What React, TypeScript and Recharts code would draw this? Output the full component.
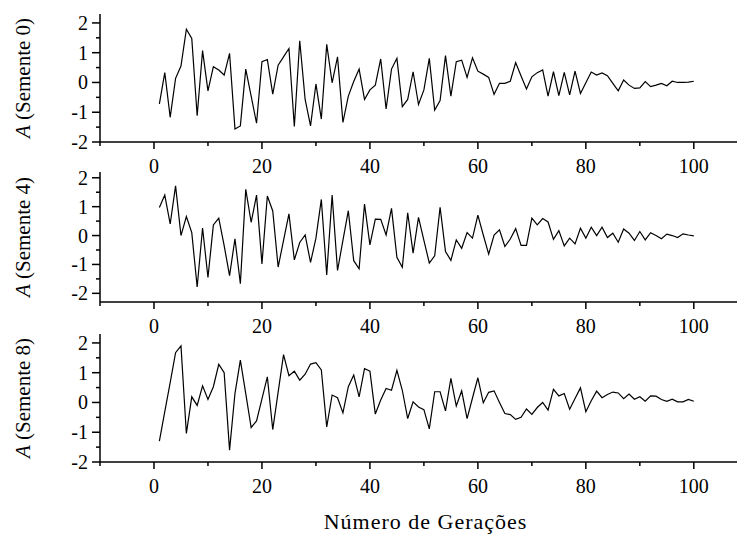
import { LineChart, Line, XAxis, YAxis } from 'recharts'

// valores (A por geração, 3 sementes)
const generations = Array.from({ length: 100 }, (_, i) => i + 1)

const semente0 = [
  -0.72, 0.33, -1.17, 0.14, 0.55, 1.79, 1.48, -1.12, 1.07, -0.28,
  0.53, 0.42, 0.25, 0.98, -1.56, -1.46, 0.45, -0.46, -1.37, 0.7,
  0.77, -0.39, 0.58, 0.86, 1.14, -1.48, 1.4, -0.57, -1.46, -0.05,
  -1.23, 1.28, -0.01, 0.86, -1.34, -0.46, 0.03, 0.45, -0.57, -0.25,
  -0.09, 0.79, -0.89, 0.45, 0.81, -0.81, -0.57, 0.36, -0.74, -0.25,
  0.81, -0.93, -0.61, 0.9, -0.46, 0.7, 0.75, 0.17, 0.83, 0.38,
  0.28, 0.17, -0.4, -0.03, -0.03, 0.04, 0.67, 0.22, -0.22, 0.19,
  0.33, 0.42, -0.46, 0.36, -0.44, 0.34, -0.42, 0.38, -0.37, -0.01,
  0.35, 0.25, 0.32, 0.23, -0.03, -0.28, 0.08, -0.09, -0.2, -0.18,
  0.03, -0.14, -0.09, -0.03, -0.11, 0.04, 0.0, 0.0, 0.01, 0.04,
]

const semente4 = [
  0.97, 1.4, 0.4, 1.72, 0.0, 0.66, 0.1, -1.78, 0.26, -1.45,
  0.37, 0.6, -0.35, -1.39, -0.11, -1.67, 1.6, 0.46, 1.4, -0.98,
  1.37, 0.85, -1.09, -0.17, 0.75, -0.84, -0.24, 0.02, -0.93, -0.09,
  1.25, -1.36, 1.4, -1.21, -0.17, 0.86, -0.87, -1.15, 1.09, -0.32,
  0.57, 0.56, 0.02, 0.94, -0.75, -1.1, 0.79, -0.61, 0.63, -0.17,
  -0.95, -0.7, 0.98, -0.55, -0.86, -0.15, -0.44, 0.1, -0.09, 0.71,
  0.02, -0.64, 0.02, 0.2, -0.38, -0.12, 0.24, -0.34, -0.34, 0.6,
  0.37, 0.59, 0.47, -0.13, 0.17, -0.36, -0.09, -0.29, 0.25, -0.09,
  0.29, 0.0, 0.29, -0.07, 0.08, -0.23, 0.23, 0.08, -0.17, 0.14,
  -0.15, 0.1, 0.0, -0.11, 0.05, 0.0, -0.07, 0.06, 0.02, -0.01,
]

const semente8 = [
  -1.3, -0.31, 0.67, 1.67, 1.9, -1.04, 0.19, -0.1, 0.56, 0.1,
  0.53, 1.28, 1.0, -1.6, 0.3, 1.42, 0.3, -0.84, -0.62, 0.12,
  0.86, -0.91, 0.35, 1.61, 0.9, 1.05, 0.75, 0.95, 1.29, 1.34,
  1.09, -0.82, 0.25, 0.16, -0.35, 0.53, 0.92, 0.19, 1.14, 1.05,
  -0.39, 0.08, 0.47, 0.41, 1.08, 0.41, -0.54, 0.02, -0.15, -0.24,
  -0.89, 0.36, 0.36, -0.28, 0.81, -0.12, 0.39, -0.54, 0.15, 0.83,
  -0.01, 0.34, 0.39, 0.0, -0.37, -0.41, -0.57, -0.5, -0.22, -0.4,
  -0.17, 0.0, -0.26, 0.44, 0.22, 0.3, -0.23, 0.13, 0.49, -0.31,
  0.06, 0.38, 0.16, 0.27, 0.35, 0.32, 0.13, 0.28, 0.11, 0.19,
  0.04, 0.22, 0.21, 0.1, 0.04, 0.11, 0.02, 0.02, 0.1, 0.04,
]

const xTicks = [-10, 0, 10, 20, 30, 40, 50, 60, 70, 80, 90, 100]
const yTicks = [-2, -1.5, -1, -0.5, 0, 0.5, 1, 1.5, 2]

const FONT = '"Liberation Serif", "Times New Roman", serif'

function XTick(props: any) {
  const { x, y, payload } = props
  const major = payload.value % 20 === 0
  return (
    <g>
      <line x1={x} x2={x} y1={y} y2={y + (major ? 7 : 4)} stroke="#000" strokeWidth={1.5} />
      {major && (
        <text x={x} y={y + 31} textAnchor="middle" fontSize={20} fontFamily={FONT} fill="#000">
          {payload.value}
        </text>
      )}
    </g>
  )
}

function YTick(props: any) {
  const { x, y, payload } = props
  const major = Number.isInteger(payload.value)
  return (
    <g>
      <line x1={x - (major ? 8 : 4)} x2={x} y1={y} y2={y} stroke="#000" strokeWidth={1.5} />
      {major && (
        <text x={x - 12} y={y} textAnchor="end" dominantBaseline="central" fontSize={20} fontFamily={FONT} fill="#000">
          {payload.value}
        </text>
      )}
    </g>
  )
}

function yLabel(seed: string) {
  return (props: any) => {
    const vb = props.viewBox
    const cy = vb.y + vb.height / 2
    return (
      <text
        transform={`translate(23, ${cy}) rotate(-90)`}
        textAnchor="middle"
        dominantBaseline="central"
        fontSize={21}
        fontFamily={FONT}
        fill="#000"
      >
        <tspan fontStyle="italic">A</tspan>
        {` (Semente ${seed})`}
      </text>
    )
  }
}

function xTitle(props: any) {
  const vb = props.viewBox
  return (
    <text
      x={vb.x + vb.width / 2 + 7}
      y={vb.y + 67}
      textAnchor="middle"
      fontSize={22}
      letterSpacing={1}
      fontFamily={FONT}
      fill="#000"
    >
      Número de Gerações
    </text>
  )
}

interface PanelProps {
  values: number[]
  seed: string
  top: number
  bottom: number
  domain: [number, number]
  last?: boolean
}

function Panel({ values, seed, top, bottom, domain, last }: PanelProps) {
  const data = generations.map((g, i) => ({ g, a: values[i] }))
  const axisH = last ? 537 - bottom : 45
  return (
    <div style={{ position: 'absolute', left: 0, top: 0 }}>
      <LineChart width={741} height={bottom + axisH} data={data} margin={{ top, right: 4, left: 0, bottom: 0 }}>
        <XAxis
          dataKey="g"
          type="number"
          domain={[-10, 108]}
          allowDataOverflow
          ticks={xTicks}
          interval={0}
          tick={<XTick />}
          tickLine={false}
          tickSize={0}
          tickMargin={0}
          height={axisH}
          axisLine={{ stroke: '#000', strokeWidth: 1.5 }}
          label={last ? xTitle : undefined}
        />
        <YAxis
          type="number"
          domain={domain}
          allowDataOverflow
          ticks={yTicks}
          interval={0}
          tick={<YTick />}
          tickLine={false}
          tickSize={0}
          tickMargin={0}
          width={100}
          axisLine={{ stroke: '#000', strokeWidth: 1.5 }}
          label={yLabel(seed)}
        />
        <Line
          type="linear"
          dataKey="a"
          stroke="#000"
          strokeWidth={1.2}
          dot={false}
          isAnimationActive={false}
        />
      </LineChart>
    </div>
  )
}

export default function App() {
  return (
    <div style={{ position: 'absolute', left: 0, top: 0, width: 741, height: 537, background: '#fff' }}>
      <Panel values={semente0} seed="0" top={14} bottom={142} domain={[-2, 2.3]} />
      <Panel values={semente4} seed="4" top={172} bottom={302} domain={[-2.3, 2.2]} />
      <Panel values={semente8} seed="8" top={334} bottom={462} domain={[-2, 2.3]} last />
    </div>
  )
}
